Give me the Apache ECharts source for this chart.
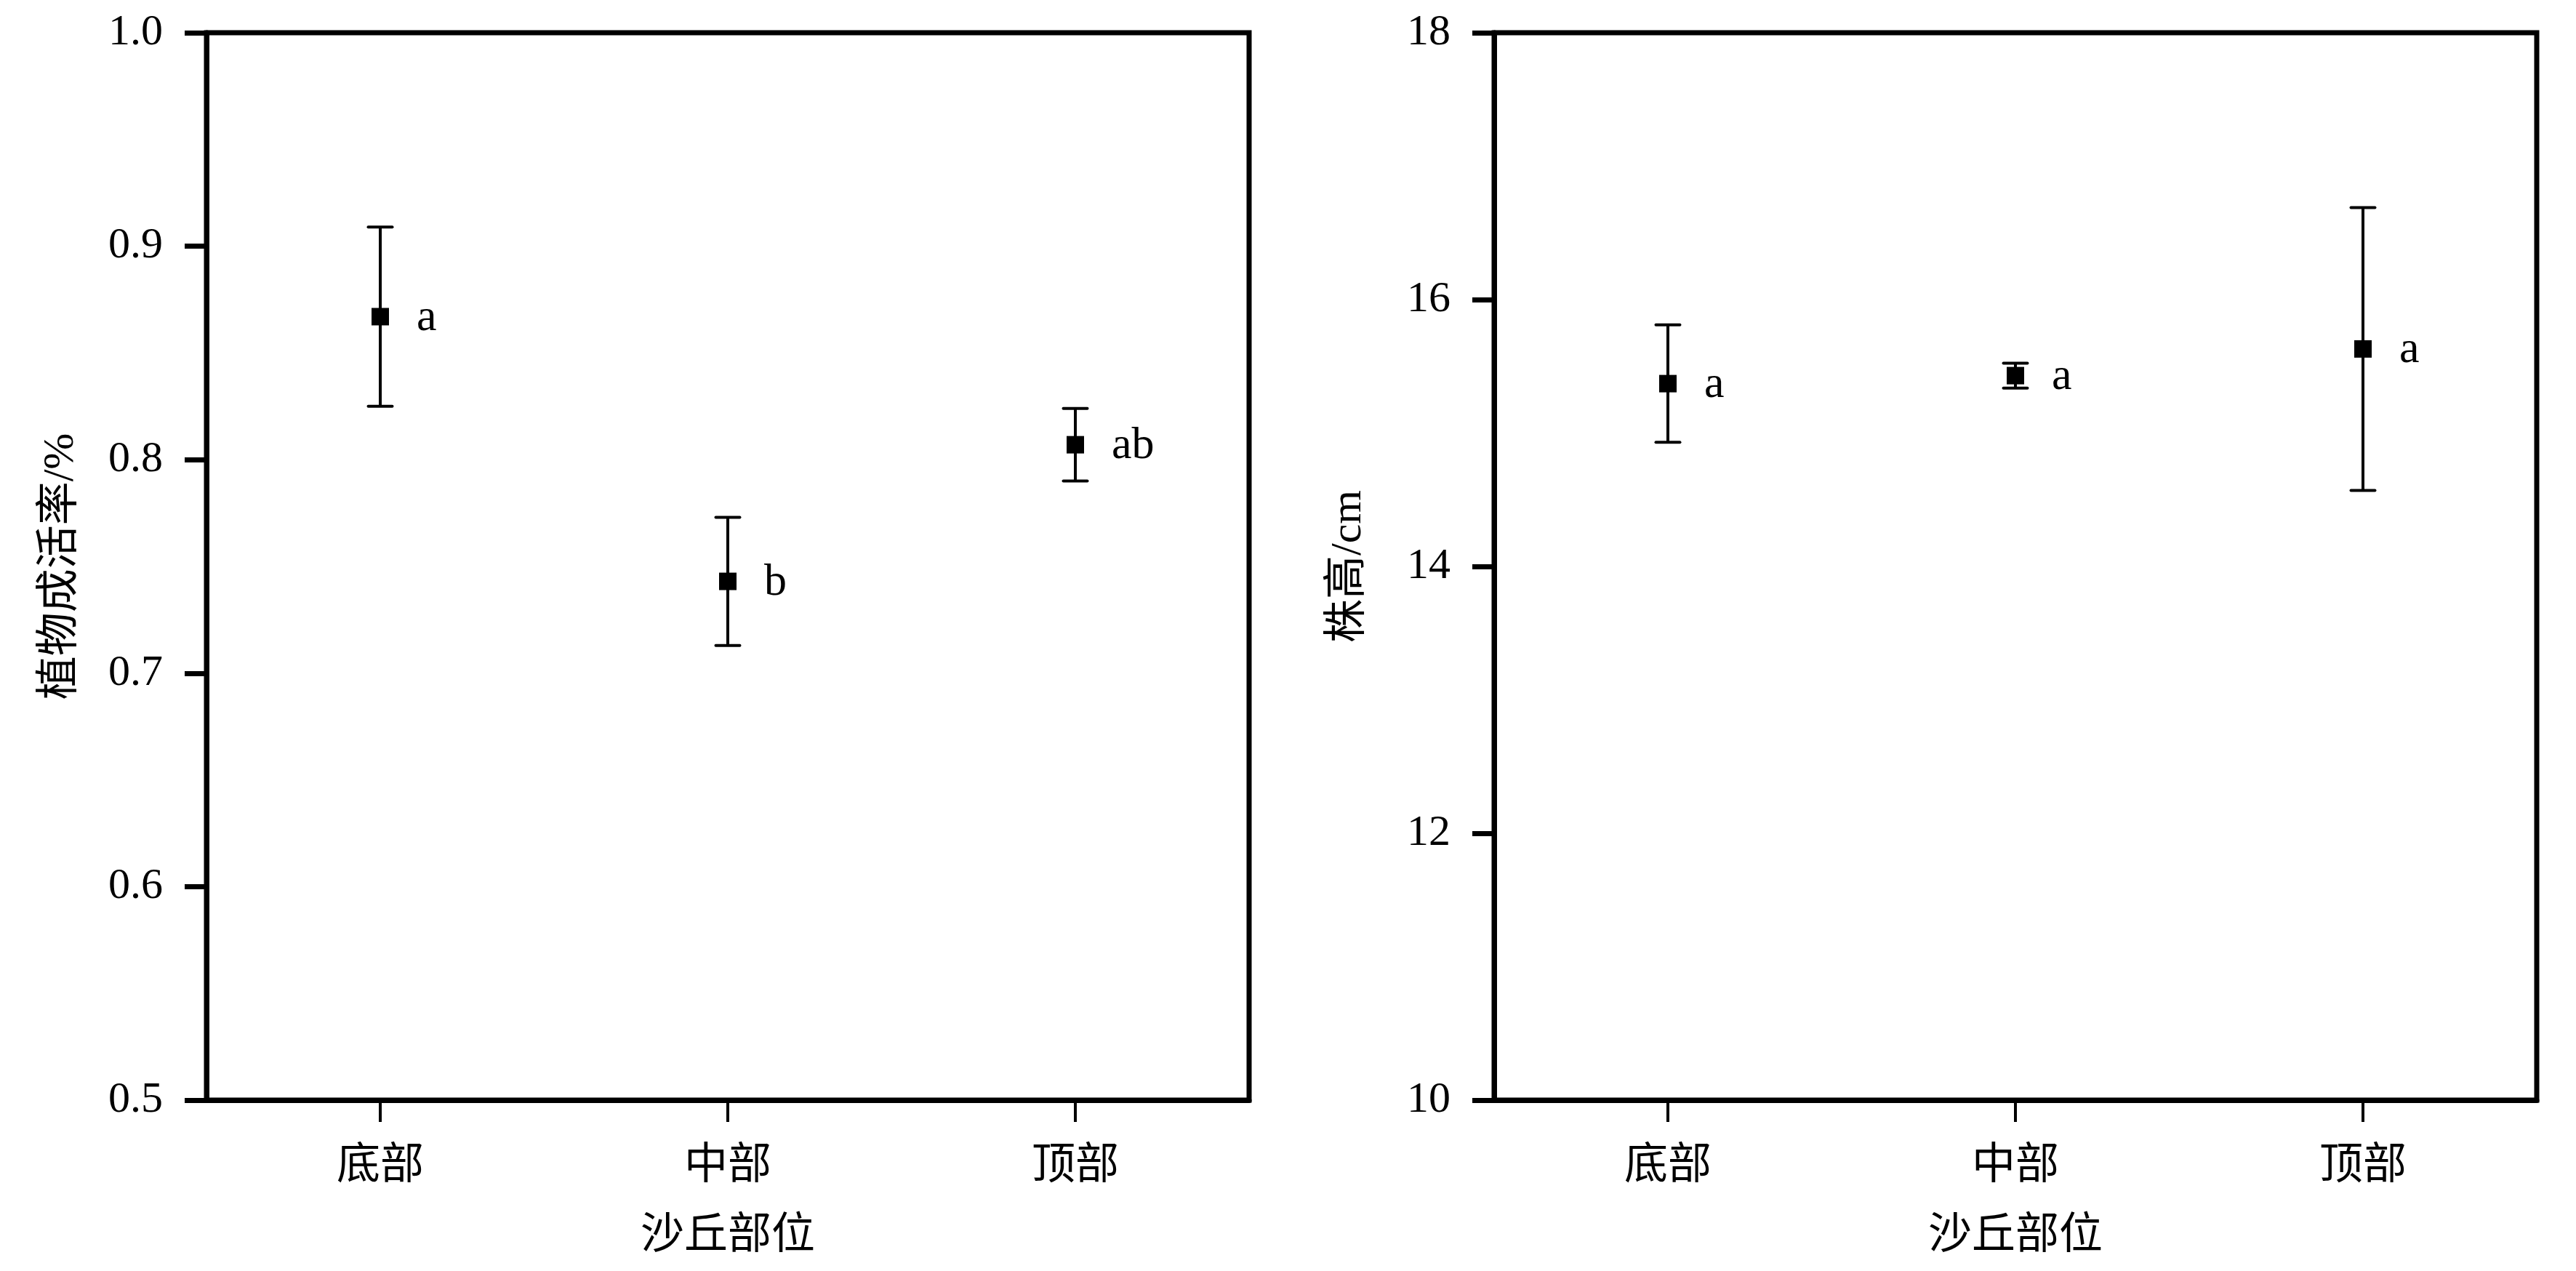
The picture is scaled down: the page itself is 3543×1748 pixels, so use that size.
<!DOCTYPE html>
<html>
<head>
<meta charset="utf-8">
<script src="https://cdn.jsdelivr.net/npm/echarts@6/dist/echarts.min.js"></script>
<style>
html,body{margin:0;padding:0;background:#fff;}
#chart{width:3543px;height:1748px;}
</style>
</head>
<body>
<div id="chart"></div>
<script>
// ---- data ----
const categories = ['底部', '中部', '顶部'];
const xAxisName = '沙丘部位';

const survivalName = '植物成活率/%';
const survivalMean = [0.867, 0.743, 0.807];
const survivalErr = [0.042, 0.030, 0.017];
const survivalLetters = ['a', 'b', 'ab'];
const survivalAxis = { min: 0.5, max: 1.0, interval: 0.1, decimals: 1 };

const heightName = '株高/cm';
const heightMean = [15.37, 15.43, 15.63];
const heightErr = [0.44, 0.093, 1.06];
const heightLetters = ['a', 'a', 'a'];
const heightAxis = { min: 10, max: 18, interval: 2, decimals: 0 };

// ---- styles ----
const FONT = "'Liberation Serif', 'Noto Sans CJK SC', serif";
const BLACK = '#000';

function xAxisDef(gridIndex) {
  return {
    type: 'category', gridIndex: gridIndex, data: categories, boundaryGap: true,
    name: xAxisName, nameLocation: 'middle', nameGap: 158,
    nameTextStyle: { fontFamily: FONT, fontSize: 60, color: BLACK },
    axisLine: { show: true, lineStyle: { color: BLACK, width: 7 } },
    axisTick: { show: true, alignWithLabel: true, length: 30, lineStyle: { color: BLACK, width: 4 } },
    axisLabel: { fontFamily: FONT, fontSize: 60, color: BLACK, margin: 62 },
    splitLine: { show: false }
  };
}
function yAxisDef(gridIndex, name, ax) {
  return {
    type: 'value', gridIndex: gridIndex, min: ax.min, max: ax.max, interval: ax.interval,
    name: name, nameLocation: 'middle', nameGap: 170,
    nameTextStyle: { fontFamily: FONT, fontSize: 60, color: BLACK },
    axisLine: { show: true, lineStyle: { color: BLACK, width: 7 } },
    axisTick: { show: true, length: 30, lineStyle: { color: BLACK, width: 7 } },
    axisLabel: { fontFamily: FONT, fontSize: 60, color: BLACK, margin: 60,
      formatter: v => Number(v).toFixed(ax.decimals) },
    splitLine: { show: false }
  };
}
function errSeries(idx, mean, err) {
  return {
    type: 'custom', xAxisIndex: idx, yAxisIndex: idx, z: 3,
    data: mean.map((m, i) => [i, m - err[i], m + err[i]]),
    encode: { x: 0, y: [1, 2] },
    renderItem: function (params, api) {
      const i = api.value(0);
      const pLo = api.coord([i, api.value(1)]);
      const pHi = api.coord([i, api.value(2)]);
      const half = 16.5;
      const st = { stroke: BLACK, lineWidth: 4, lineCap: 'round' };
      return {
        type: 'group', children: [
          { type: 'line', shape: { x1: pHi[0], y1: pHi[1], x2: pLo[0], y2: pLo[1] }, style: { stroke: BLACK, lineWidth: 4 } },
          { type: 'line', shape: { x1: pHi[0] - half, y1: pHi[1], x2: pHi[0] + half, y2: pHi[1] }, style: st },
          { type: 'line', shape: { x1: pLo[0] - half, y1: pLo[1], x2: pLo[0] + half, y2: pLo[1] }, style: st }
        ]
      };
    }
  };
}
function pointSeries(idx, mean, letters) {
  return {
    type: 'scatter', xAxisIndex: idx, yAxisIndex: idx, z: 5,
    symbol: 'rect', symbolSize: 24,
    itemStyle: { color: BLACK, opacity: 1 },
    data: mean,
    label: {
      show: true, position: 'right', distance: 38, offset: [0, 2],
      formatter: p => letters[p.dataIndex],
      fontFamily: FONT, fontSize: 62, color: BLACK, opacity: 1
    },
    emphasis: { disabled: true }
  };
}

const chart = echarts.init(document.getElementById('chart'), null, { renderer: 'canvas' });
chart.setOption({
  backgroundColor: '#fff',
  animation: false,
  grid: [
    { left: 284, top: 45, width: 1434, height: 1468, show: true, borderColor: BLACK, borderWidth: 7, backgroundColor: 'transparent' },
    { left: 2055, top: 45, width: 1434, height: 1468, show: true, borderColor: BLACK, borderWidth: 7, backgroundColor: 'transparent' }
  ],
  xAxis: [xAxisDef(0), xAxisDef(1)],
  yAxis: [yAxisDef(0, survivalName, survivalAxis), yAxisDef(1, heightName, heightAxis)],
  series: [
    errSeries(0, survivalMean, survivalErr),
    pointSeries(0, survivalMean, survivalLetters),
    errSeries(1, heightMean, heightErr),
    pointSeries(1, heightMean, heightLetters)
  ]
});
</script>
</body>
</html>
